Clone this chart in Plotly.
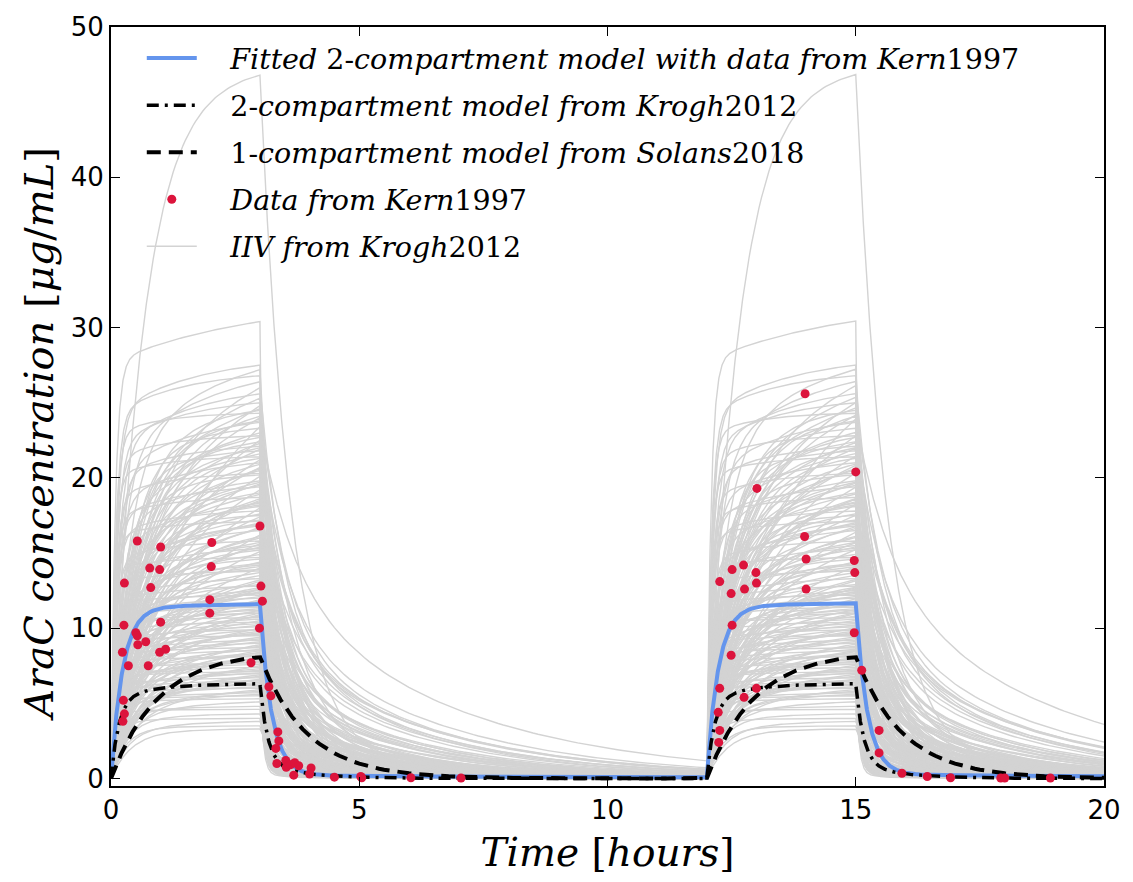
import numpy as np
import plotly.graph_objects as go

# ---------------------------------------------------------------------------
# Dosing schedule: two 3-hour infusions of AraC
# ---------------------------------------------------------------------------
dose_starts = [0.0, 12.0]
infusion_hours = 3.0

# Measured concentrations (Kern 1997) [hours, ug/mL]
kern_time = [
    0.24, 0.27, 0.25, 0.35, 0.23, 0.26, 0.27,
    0.50, 0.53, 0.54, 0.53,
    0.70, 0.75, 0.80, 0.78,
    0.98, 1.10, 1.00, 0.98, 1.00,
    1.99, 1.99, 2.02, 2.03,
    2.82, 2.99, 3.02, 3.05, 3.00,
    3.18, 3.22, 3.36, 3.38, 3.32, 3.34, 3.52, 3.53, 3.62, 3.70, 3.78, 3.68,
    4.03, 4.00, 4.50, 5.03, 5.05, 6.04, 7.05,
    12.24, 12.26, 12.23, 12.26, 12.26,
    12.49, 12.51, 12.49, 12.51,
    12.75, 12.76, 12.74,
    13.00, 13.00, 12.99, 13.01,
    14.00, 14.00, 13.97, 13.98,
    14.97, 14.98, 14.97, 15.00,
    15.12, 15.47, 15.47, 15.93, 16.44, 16.91, 17.92, 18.00, 18.92,
]
kern_conc = [
    3.8, 4.3, 5.2, 7.5, 8.4, 10.2, 13.0,
    9.7, 9.5, 8.9, 15.8,
    9.1, 7.5, 12.7, 14.0,
    8.4, 8.6, 10.4, 13.9, 15.4,
    11.0, 11.9, 14.1, 15.7,
    7.7, 10.0, 12.8, 11.8, 16.8,
    6.1, 5.5, 3.1, 2.5, 2.0, 1.0, 1.2, 0.74, 0.92, 1.05, 0.85, 0.22,
    0.7, 0.3, 0.09, 0.13, 0.05, 0.05, 0.03,
    2.4, 3.2, 4.4, 6.0, 13.1,
    8.2, 10.2, 12.3, 13.9,
    5.4, 12.6, 14.2,
    6.0, 13.0, 13.7, 19.3,
    12.6, 14.6, 16.1, 25.6,
    9.7, 13.7, 14.5, 20.4,
    7.2, 3.2, 1.7, 0.35, 0.13, 0.05, 0.03, 0.03, 0.03,
]

# Model parameters: level at end of infusion, fast/slow disposition rates [1/h]
# and the share of the end-of-infusion level carried by the slow phase.
fit_peak, fit_fast_rate, fit_slow_share, fit_slow_rate = 11.6, 4.3, 0.017, 0.1
krogh_peak, krogh_fast_rate, krogh_slow_share, krogh_slow_rate = 6.3, 6.5, 0.16, 1.2
solans_peak, solans_rate = 8.1, 1.05

# Inter-individual variability (Krogh 2012): one entry per simulated patient
iiv_peak = [
    3.3, 3.5, 3.8, 4.0, 4.3, 4.6, 4.8, 5.1, 5.3,
    5.5, 5.6, 5.7, 5.9, 6.0, 6.1, 6.2, 6.4, 6.5, 6.6,
    6.7, 6.9, 7.0, 7.1, 7.2, 7.4, 7.5, 7.6, 7.7, 7.9,
    8.0, 8.1, 8.2, 8.4, 8.5, 8.6, 8.7, 8.9, 9.0, 9.1,
    9.2, 9.4, 9.5, 9.6, 9.7, 9.9, 10.0, 10.1, 10.2, 10.4,
    10.5, 10.6, 10.7, 10.9, 11.0, 11.1, 11.2, 11.4, 11.5, 11.6,
    11.7, 11.9, 12.0, 12.1, 12.2, 12.4, 12.5, 12.6, 12.8, 12.9,
    13.1, 13.3, 13.5, 13.8, 14.0, 14.2, 14.4, 14.7, 14.9, 15.1,
    15.3, 15.6, 15.8, 16.0, 16.2, 16.5, 16.7, 16.9, 17.1, 17.4,
    17.6, 17.8, 18.0, 18.3, 18.5, 18.7, 18.9, 19.2, 19.4, 19.6,
    19.8, 20.1, 20.3, 20.5, 20.7, 21.0, 21.2, 21.4, 21.6, 21.9,
    22.1, 22.3, 22.5, 22.8, 23.0, 23.4, 23.7, 24.0, 24.3, 24.6,
    24.8, 25.0,
    25.3, 25.6, 26.0, 26.4, 26.8, 27.2, 27.5, 30.4, 46.8,
    6.3, 7.8, 9.3, 10.8, 12.3, 13.7, 15.2, 16.6, 18.1, 19.5,
    6.8, 8.3, 9.8, 11.3, 12.7, 14.3, 15.7, 17.2, 18.6, 20.2,
    7.3, 8.8, 10.3, 11.8, 13.2, 14.6, 16.1, 17.5, 19.0, 20.6,
    5.8, 7.0, 8.5, 9.9, 11.2, 12.6, 14.1, 15.5, 17.0, 18.4,
    6.5, 8.0, 9.6, 11.0, 12.4, 13.9, 15.4, 16.8, 18.2, 19.7,
    21.3, 22.0, 22.7, 23.3, 24.1, 24.5, 21.8, 20.9, 23.8, 22.4,
]
iiv_fast_rate = [
    2.5, 3.5, 2.8, 6.0, 3.2, 9.0, 4.0, 2.6, 7.5,
    12, 3.0, 6.5, 2.2, 9.5, 4.2, 15, 2.8, 7.0, 3.6,
    11, 2.4, 5.5, 13, 3.3, 8.0, 2.0, 6.0, 10, 4.6,
    3.0, 14, 5.0, 2.6, 9.0, 3.8, 12, 2.2, 6.8, 4.0,
    8.5, 2.9, 13, 5.2, 3.4, 10.5, 2.5, 7.2, 4.4, 11.5,
    3.1, 6.2, 14, 2.3, 9.2, 4.8, 2.7, 12.5, 5.8, 3.5,
    10, 2.1, 7.8, 4.1, 13.5, 3.0, 6.6, 2.4, 11, 5.0,
    2.0, 9.0, 3.4, 12, 1.7, 5.5, 2.6, 14, 4.0, 1.9,
    7.0, 2.3, 11, 3.0, 1.6, 8.5, 2.8, 5.0, 13, 2.1,
    3.6, 10, 1.8, 6.2, 2.5, 12, 4.3, 1.5, 9.5, 2.9,
    5.8, 1.7, 11.5, 3.2, 2.2, 7.5, 1.9, 13, 4.6, 2.4,
    8.0, 2.7, 1.8, 10.5, 3.5, 1.45, 6.5, 2.2, 12, 3.0,
    1.9, 9.0,
    2.6, 7.0, 2.0, 4.5, 11, 3.0, 9.0, 12, 1.6,
    2.4, 1.8, 3.0, 2.1, 1.7, 2.8, 2.2, 3.4, 1.9, 2.6,
    3.2, 2.0, 1.6, 2.7, 2.3, 1.9, 3.1, 2.5, 1.7, 2.9,
    1.8, 2.6, 3.3, 1.9, 2.2, 3.0, 1.7, 2.4, 2.8, 2.0,
    2.9, 2.2, 1.8, 3.5, 2.5, 1.6, 2.7, 2.1, 3.2, 1.8,
    2.0, 3.1, 2.4, 1.7, 2.9, 2.3, 1.9, 2.6, 2.2, 3.0,
    1.8, 2.5, 2.0, 2.7, 1.6, 2.3, 3.2, 2.1, 1.9, 2.4,
]
iiv_slow_share = [
    0.08, 0.05, 0.12, 0.04, 0.10, 0.03, 0.07, 0.15, 0.05,
    0.05, 0.18, 0.10, 0.25, 0.06, 0.15, 0.04, 0.22, 0.08, 0.30,
    0.07, 0.28, 0.12, 0.05, 0.20, 0.09, 0.35, 0.11, 0.06, 0.16,
    0.24, 0.05, 0.14, 0.30, 0.08, 0.19, 0.06, 0.33, 0.10, 0.21,
    0.09, 0.26, 0.05, 0.13, 0.23, 0.07, 0.32, 0.11, 0.18, 0.06,
    0.27, 0.12, 0.04, 0.36, 0.08, 0.17, 0.29, 0.06, 0.14, 0.22,
    0.07, 0.34, 0.10, 0.20, 0.05, 0.28, 0.13, 0.38, 0.08, 0.16,
    0.35, 0.10, 0.25, 0.06, 0.42, 0.15, 0.30, 0.05, 0.20, 0.45,
    0.12, 0.38, 0.08, 0.28, 0.48, 0.14, 0.33, 0.18, 0.06, 0.40,
    0.22, 0.09, 0.50, 0.16, 0.36, 0.07, 0.24, 0.44, 0.11, 0.30,
    0.17, 0.46, 0.08, 0.27, 0.39, 0.13, 0.43, 0.06, 0.21, 0.34,
    0.10, 0.30, 0.47, 0.07, 0.25, 0.57, 0.15, 0.37, 0.06, 0.28,
    0.40, 0.12,
    0.30, 0.15, 0.35, 0.20, 0.10, 0.22, 0.12, 0.09, 0.03,
    0.20, 0.15, 0.25, 0.30, 0.12, 0.22, 0.18, 0.28, 0.14, 0.24,
    0.30, 0.10, 0.20, 0.16, 0.26, 0.13, 0.23, 0.19, 0.29, 0.11,
    0.17, 0.27, 0.12, 0.21, 0.33, 0.15, 0.25, 0.10, 0.20, 0.30,
    0.22, 0.14, 0.31, 0.18, 0.12, 0.26, 0.20, 0.15, 0.24, 0.28,
    0.13, 0.21, 0.17, 0.29, 0.23, 0.11, 0.27, 0.16, 0.19, 0.25,
    0.14, 0.22, 0.18, 0.12, 0.20, 0.16, 0.10, 0.24, 0.13, 0.17,
]
iiv_slow_rate = [
    0.60, 0.80, 0.50, 0.90, 0.70, 1.00, 0.60, 0.45, 0.85,
    0.70, 0.45, 0.80, 0.40, 0.90, 0.55, 1.00, 0.42, 0.75, 0.38,
    0.85, 0.40, 0.60, 0.95, 0.50, 0.70, 0.36, 0.65, 0.90, 0.50,
    0.42, 0.90, 0.55, 0.37, 0.80, 0.48, 0.95, 0.35, 0.70, 0.45,
    0.75, 0.40, 1.00, 0.60, 0.43, 0.85, 0.36, 0.65, 0.50, 0.90,
    0.40, 0.60, 0.95, 0.34, 0.80, 0.52, 0.38, 0.90, 0.58, 0.44,
    0.85, 0.36, 0.70, 0.47, 0.95, 0.39, 0.62, 0.33, 0.80, 0.50,
    0.38, 0.75, 0.45, 0.90, 0.34, 0.60, 0.40, 1.00, 0.50, 0.33,
    0.70, 0.36, 0.85, 0.42, 0.31, 0.60, 0.38, 0.55, 0.95, 0.35,
    0.47, 0.80, 0.30, 0.55, 0.36, 0.90, 0.44, 0.32, 0.70, 0.40,
    0.58, 0.31, 0.85, 0.42, 0.34, 0.65, 0.30, 0.95, 0.50, 0.37,
    0.75, 0.40, 0.30, 0.90, 0.45, 0.27, 0.60, 0.33, 1.00, 0.40,
    0.32, 0.70,
    0.40, 0.60, 0.35, 0.50, 0.70, 0.45, 0.60, 0.35, 0.30,
    0.55, 0.70, 0.45, 0.60, 0.75, 0.50, 0.65, 0.42, 0.68, 0.52,
    0.48, 0.72, 0.58, 0.62, 0.44, 0.78, 0.50, 0.66, 0.46, 0.70,
    0.60, 0.47, 0.74, 0.53, 0.41, 0.67, 0.50, 0.80, 0.57, 0.45,
    0.52, 0.69, 0.43, 0.61, 0.76, 0.49, 0.58, 0.71, 0.46, 0.54,
    0.73, 0.51, 0.64, 0.44, 0.56, 0.79, 0.47, 0.63, 0.59, 0.50,
    0.66, 0.55, 0.60, 0.72, 0.52, 0.62, 0.75, 0.48, 0.65, 0.57,
]

# ---------------------------------------------------------------------------
# Linear multi-exponential infusion model, superposed over both doses
# ---------------------------------------------------------------------------
t = np.unique(np.concatenate([
    np.linspace(0.0, 0.8, 161), np.linspace(0.8, 3.0, 45),
    np.linspace(3.0, 4.0, 201), np.linspace(4.0, 12.0, 81),
    np.linspace(12.0, 12.8, 161), np.linspace(12.8, 15.0, 45),
    np.linspace(15.0, 16.0, 201), np.linspace(16.0, 20.0, 41),
]))


def infusion_profile(time, peak, fast_rate, slow_share, slow_rate):
    conc = np.zeros_like(time)
    for amp, k in ((peak * (1 - slow_share), fast_rate), (peak * slow_share, slow_rate)):
        if amp <= 0:
            continue
        gain = amp / (1 - np.exp(-k * infusion_hours))
        for start in dose_starts:
            tau = time - start
            on = (tau >= 0) & (tau <= infusion_hours)
            off = tau > infusion_hours
            conc[on] += gain * (1 - np.exp(-k * tau[on]))
            conc[off] += (gain * (1 - np.exp(-k * infusion_hours))
                          * np.exp(-k * (tau[off] - infusion_hours)))
    return conc


fit_curve = infusion_profile(t, fit_peak, fit_fast_rate, fit_slow_share, fit_slow_rate)
krogh_curve = infusion_profile(t, krogh_peak, krogh_fast_rate, krogh_slow_share, krogh_slow_rate)
solans_curve = infusion_profile(t, solans_peak, solans_rate, 0.0, 1.0)

iiv_x, iiv_y = [], []
for p, a, s, b in zip(iiv_peak, iiv_fast_rate, iiv_slow_share, iiv_slow_rate):
    iiv_x.append(t)
    iiv_y.append(infusion_profile(t, p, a, s, b))
    iiv_x.append([np.nan])
    iiv_y.append([np.nan])
iiv_x = np.concatenate(iiv_x).astype(np.float32)
iiv_y = np.concatenate(iiv_y).astype(np.float32)

# ---------------------------------------------------------------------------
# Figure
# ---------------------------------------------------------------------------
LEGEND_PAD = "\u2003"  # gap between legend sample and its label

fig = go.Figure()

fig.add_trace(go.Scatter(
    x=iiv_x, y=iiv_y, mode="lines", connectgaps=False,
    line=dict(color="#d3d3d3", width=1.4),
    name=LEGEND_PAD + "<i>IIV from Krogh</i>2012", legendrank=5, legendgroup="g5",
))
fig.add_trace(go.Scatter(
    x=t, y=fit_curve, mode="lines",
    line=dict(color="#6495ED", width=4),
    name=LEGEND_PAD + "<i>Fitted</i> 2-<i>compartment model with data from Kern</i>1997",
    legendrank=1, legendgroup="g1",
))
fig.add_trace(go.Scatter(
    x=t, y=krogh_curve, mode="lines",
    line=dict(color="black", width=3.5, dash="12px,6px,3px,6px"),
    name=LEGEND_PAD + "2-<i>compartment model from Krogh</i>2012",
    legendrank=2, legendgroup="g2",
))
fig.add_trace(go.Scatter(
    x=t, y=solans_curve, mode="lines",
    line=dict(color="black", width=4, dash="14px,8px"),
    name=LEGEND_PAD + "1-<i>compartment model from Solans</i>2018",
    legendrank=3, legendgroup="g3",
))
fig.add_trace(go.Scatter(
    x=kern_time, y=kern_conc, mode="markers",
    marker=dict(color="#DC143C", size=9, line=dict(width=0)),
    name=LEGEND_PAD + "<i>Data from Kern</i>1997", legendrank=4, legendgroup="g4",
))

axis_common = dict(
    ticks="inside", ticklen=9, tickwidth=1.3, tickcolor="black",
    showline=True, linecolor="black", linewidth=2, mirror="ticks",
    showgrid=False, zeroline=False,
    tickfont=dict(family="DejaVu Sans", size=26, color="black"),
)

fig.update_layout(
    width=1133, height=882,
    margin=dict(l=111, r=27, t=17, b=96),
    plot_bgcolor="white", paper_bgcolor="white",
    legend=dict(
        x=0.031, y=0.992, xanchor="left", yanchor="top",
        bgcolor="rgba(0,0,0,0)", tracegroupgap=7, itemwidth=50,
        font=dict(family="DejaVu Serif", size=28.5, color="black"),
    ),
    xaxis=dict(
        range=[0, 20], tickvals=[0, 5, 10, 15, 20],
        title=dict(text="<i>Time</i> [<i>hours</i>]", standoff=14,
                   font=dict(family="DejaVu Serif", size=39, color="black")),
        **axis_common,
    ),
    yaxis=dict(
        range=[-0.5, 50], tickvals=[0, 10, 20, 30, 40, 50],
        **axis_common,
    ),
    annotations=[dict(
        text="<i>AraC concentration</i> [<i>μg</i>/<i>mL</i>]",
        xref="paper", yref="paper", x=-0.0734, y=0.463,
        xanchor="center", yanchor="middle", textangle=-90, showarrow=False,
        font=dict(family="DejaVu Serif", size=40, color="black"),
    )],
)

fig.write_html("out.html")
